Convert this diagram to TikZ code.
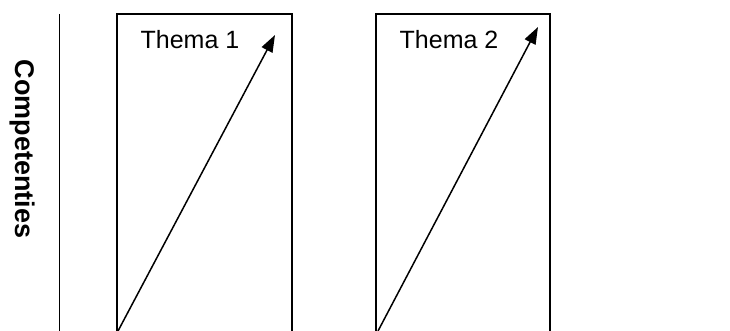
\documentclass[tikz,border=0pt]{standalone}
\usepackage{fontspec}
\setmainfont{Liberation Sans}
\usetikzlibrary{arrows.meta}
\begin{document}
\begin{tikzpicture}[x=1pt,y=-1pt,
  frame/.style={line width=1.6pt},
  rise/.style={line width=1.5pt,-{Triangle[length=17pt,width=12pt]}},
  lbl/.style={font=\fontsize{25}{30}\selectfont,inner sep=0pt},
  axislbl/.style={font=\fontsize{27}{32}\selectfont\bfseries,inner sep=0pt,rotate=-90}]
\useasboundingbox (0,0) rectangle (730,331);
\draw[line width=0.9pt] (59,14) -- (59,331);
\node[axislbl] (comp) at (22,149) {Competenties};
% box 1
\draw[frame] (117,331) -- (117,14) -- (292,14) -- (292,331);
\node[lbl] (t1) at (190,40) {Thema 1};
\coordinate (a1s) at (118,331);
\coordinate (a1e) at (275,35);
\draw[rise] (a1s) -- (a1e);
% box 2
\draw[frame] (376,331) -- (376,14) -- (550,14) -- (550,331);
\node[lbl] (t2) at (449,40) {Thema 2};
\coordinate (a2s) at (378,331);
\coordinate (a2e) at (538,27);
\draw[rise] (a2s) -- (a2e);
\end{tikzpicture}
\end{document}
